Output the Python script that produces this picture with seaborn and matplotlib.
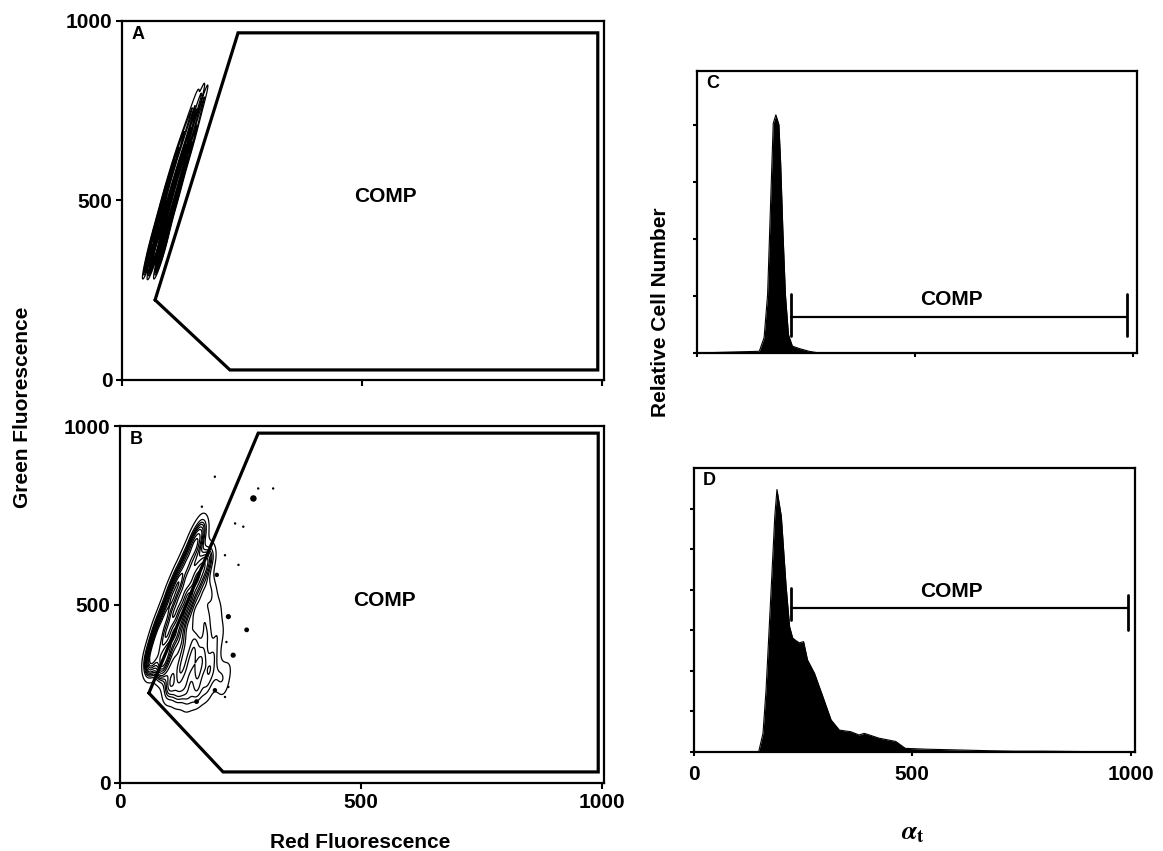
import numpy as np
import pandas as pd
import matplotlib
matplotlib.use("Agg")
import matplotlib.pyplot as plt
import seaborn as sns

# ---- data ----
# panel A: cluster (red, green) with relative weights, left edge / centre / right edge per level
A_red = [57, 67, 80, 60, 71, 84, 63, 75, 88, 70, 82, 95, 78, 90, 103, 86, 99, 112,
         94, 107, 120, 103, 116, 128, 112, 125, 137, 122, 135, 146, 132, 143, 154,
         142, 152, 162, 152, 161, 170, 160, 167, 174]
A_green = [345, 345, 345, 360, 360, 360, 385, 385, 385, 420, 420, 420, 460, 460, 460,
           500, 500, 500, 540, 540, 540, 580, 580, 580, 620, 620, 620, 660, 660, 660,
           700, 700, 700, 740, 740, 740, 780, 780, 780, 800, 800, 800]
A_weight = [6, 7, 6, 6, 7, 6, 5, 6, 5, 5, 6, 5, 4, 5, 4, 4, 5, 4,
            3, 4, 3, 3, 3.5, 3, 2.5, 3, 2.5, 2, 2.5, 2, 1.5, 2, 1.5,
            1.2, 1.5, 1.2, 1, 1.2, 1, 0.6, 0.8, 0.6]

# panel B: cluster (left band, gate band, right blob)
B_red = [62, 72, 82, 95, 108, 122, 137, 150, 160, 172,
         86, 98, 112, 127, 142, 158, 172, 187,
         100, 120, 140, 160, 180, 110, 135, 160, 185, 205, 120, 145, 170, 195,
         130, 155, 180, 205, 150, 175, 200, 165, 190, 180, 215, 225]
B_green = [335, 380, 425, 470, 520, 565, 610, 650, 681, 715,
           326, 370, 420, 470, 520, 570, 610, 634,
           260, 250, 235, 245, 260, 300, 290, 300, 310, 300, 350, 340, 350, 360,
           400, 390, 410, 420, 450, 460, 480, 510, 530, 560, 270, 320]
B_weight = [3, 3, 3, 3, 3, 3, 2.5, 2, 2, 1.5,
            3, 3, 3, 3, 3, 2.5, 2, 1.5,
            1.5, 1.5, 1.2, 1.2, 1, 1.5, 1.5, 1.5, 1.2, 1, 1.5, 1.5, 1.5, 1.2,
            1.5, 1.5, 1.2, 1, 1.2, 1.2, 1, 1, 1, 0.8, 0.7, 0.6]
B_dot_red = [277, 225, 263, 235, 159, 197, 201, 197, 318, 287, 170, 256, 239, 218, 246, 221, 225, 218]
B_dot_green = [797, 466, 429, 358, 228, 260, 583, 858, 825, 825, 774, 718, 727, 638, 611, 395, 269, 241]
B_dot_size = [22, 14, 12, 14, 12, 10, 10, 3, 3, 3, 3, 3, 3, 3, 3, 3, 3, 3]

# COMP gates in A and B
gateA_red = [69, 242, 992, 992, 225, 69]
gateA_green = [223, 967, 967, 28, 28, 223]
gateB_red = [60, 287, 993, 993, 214, 60]
gateB_green = [252, 980, 980, 31, 31, 252]

# histograms C and D (alpha_t vs relative cell number)
C_x = [0, 143, 154, 162, 167, 172, 175, 181, 188, 192, 197, 203, 210, 219, 234, 257, 280, 1000]
C_y = [0, 0.03, 0.27, 1.02, 2.18, 3.34, 4.03, 4.18, 4.01, 3.34, 2.18, 1.02, 0.32, 0.12, 0.08, 0.03, 0, 0]
D_x = [0, 148, 158, 165, 177, 185, 190, 200, 211, 219, 226, 233, 241, 251, 260, 276, 295, 314,
       333, 359, 378, 390, 424, 462, 484, 530, 606, 682, 733, 800, 900, 984, 1000]
D_y = [0, 0, 0.46, 1.53, 4.08, 5.81, 6.47, 5.81, 4.08, 3.09, 2.81, 2.75, 2.69, 2.72, 2.27, 1.94, 1.37, 0.79,
       0.54, 0.50, 0.42, 0.46, 0.34, 0.26, 0.09, 0.07, 0.05, 0.03, 0.02, 0.02, 0.01, 0.01, 0]

# COMP markers in C and D
C_comp = (216, 986, 0.64)
D_comp = (223, 993, 3.56)

sns.set_style("ticks")
plt.rcParams["font.family"] = ["Liberation Sans", "DejaVu Sans"]
plt.rcParams["font.weight"] = "bold"
plt.rcParams["axes.linewidth"] = 1.6
plt.rcParams["axes.edgecolor"] = "black"
plt.rcParams["xtick.color"] = "black"
plt.rcParams["ytick.color"] = "black"
plt.rcParams["text.color"] = "black"
plt.rcParams["mathtext.fontset"] = "stix"

W, H = 1163, 851
fig = plt.figure(figsize=(W / 100, H / 100), dpi=100)
axA = fig.add_axes([122 / W, 1 - 380 / H, 482 / W, 359 / H])
axB = fig.add_axes([120 / W, 1 - 783 / H, 484 / W, 357 / H])
axC = fig.add_axes([697 / W, 1 - 353 / H, 440 / W, 282 / H])
axD = fig.add_axes([694 / W, 1 - 752 / H, 441 / W, 284 / H])

tick_font = 15


def scatter_panel(ax, letter, red, green, weight, gr, gg, bw, lv, show_x):
    df = pd.DataFrame({"red": red, "green": green, "w": weight})
    sns.kdeplot(data=df, x="red", y="green", weights="w", ax=ax, color="black",
                levels=lv, thresh=0.05, bw_adjust=bw, linewidths=0.9)
    ax.plot(gr, gg, color="black", lw=2.3, solid_joinstyle="miter")
    ax.set_xlim(0, 1005)
    ax.set_ylim(0, 1000)
    ax.set_xticks([0, 500, 1000])
    ax.set_yticks([0, 500, 1000])
    ax.tick_params(direction="out", length=4, width=1.5, labelsize=tick_font, pad=3)
    if not show_x:
        ax.tick_params(labelbottom=False)
    ax.set_xlabel("")
    ax.set_ylabel("")
    ax.text(0.02, 0.985, letter, transform=ax.transAxes, ha="left", va="top",
            fontsize=13, fontweight="bold")
    ax.text(550, 510, "COMP", ha="center", va="center", fontsize=15, fontweight="bold")


scatter_panel(axA, "A", A_red, A_green, A_weight, gateA_red, gateA_green, 0.42, 12, False)
scatter_panel(axB, "B", B_red, B_green, B_weight, gateB_red, gateB_green, 0.45, 11, True)
axB.scatter(B_dot_red, B_dot_green, s=B_dot_size, color="black", linewidths=0)


def hist_panel(ax, letter, x, y, comp, top, ticks, show_x):
    sns.lineplot(x=x, y=y, ax=ax, color="black", lw=0.8, sort=False, estimator=None)
    ax.fill_between(x, y, 0, color="black", lw=0)
    x0, x1, yc = comp
    ax.plot([x0, x1], [yc, yc], color="black", lw=1.6)
    ax.set_xlim(0, 1010)
    ax.set_ylim(0, top)
    ax.set_xticks([0, 500, 1000])
    ax.set_yticks(ticks)
    ax.set_yticklabels([])
    ax.tick_params(direction="out", length=3, width=1.5, labelsize=tick_font, pad=6)
    if not show_x:
        ax.tick_params(labelbottom=False)
    ax.text(0.02, 0.985, letter, transform=ax.transAxes, ha="left", va="top",
            fontsize=13, fontweight="bold")


hist_panel(axC, "C", C_x, C_y, C_comp, 4.95, [0, 1, 2, 3, 4], False)
axC.plot([216, 216], [0.30, 1.03], color="black", lw=2)
axC.plot([986, 986], [0.30, 1.03], color="black", lw=2)
axC.text(583, 0.78, "COMP", ha="center", va="bottom", fontsize=15, fontweight="bold")

hist_panel(axD, "D", D_x, D_y, D_comp, 7.0, [0, 1, 2, 3, 4, 5, 6], True)
axD.plot([223, 223], [3.26, 4.05], color="black", lw=2)
axD.plot([993, 993], [3.01, 3.88], color="black", lw=2)
axD.text(590, 3.72, "COMP", ha="center", va="bottom", fontsize=15, fontweight="bold")

for ax in (axA, axB, axC, axD):
    for s in ax.spines.values():
        s.set_visible(True)
        s.set_linewidth(1.6)
        s.set_color("black")

fig.text(23 / W, 1 - 407 / H, "Green Fluorescence", rotation=90, ha="center", va="center",
         fontsize=15, fontweight="bold")
fig.text(360 / W, 1 - 843 / H, "Red Fluorescence", ha="center", va="center",
         fontsize=15, fontweight="bold")
fig.text(660 / W, 1 - 312 / H, "Relative Cell Number", rotation=90, ha="center", va="center",
         fontsize=15, fontweight="bold")
fig.text(913 / W, 1 - 833 / H, r"$\alpha_{\mathbf{t}}$", ha="center", va="center", fontsize=19)

fig.savefig("out.png", dpi=100)
